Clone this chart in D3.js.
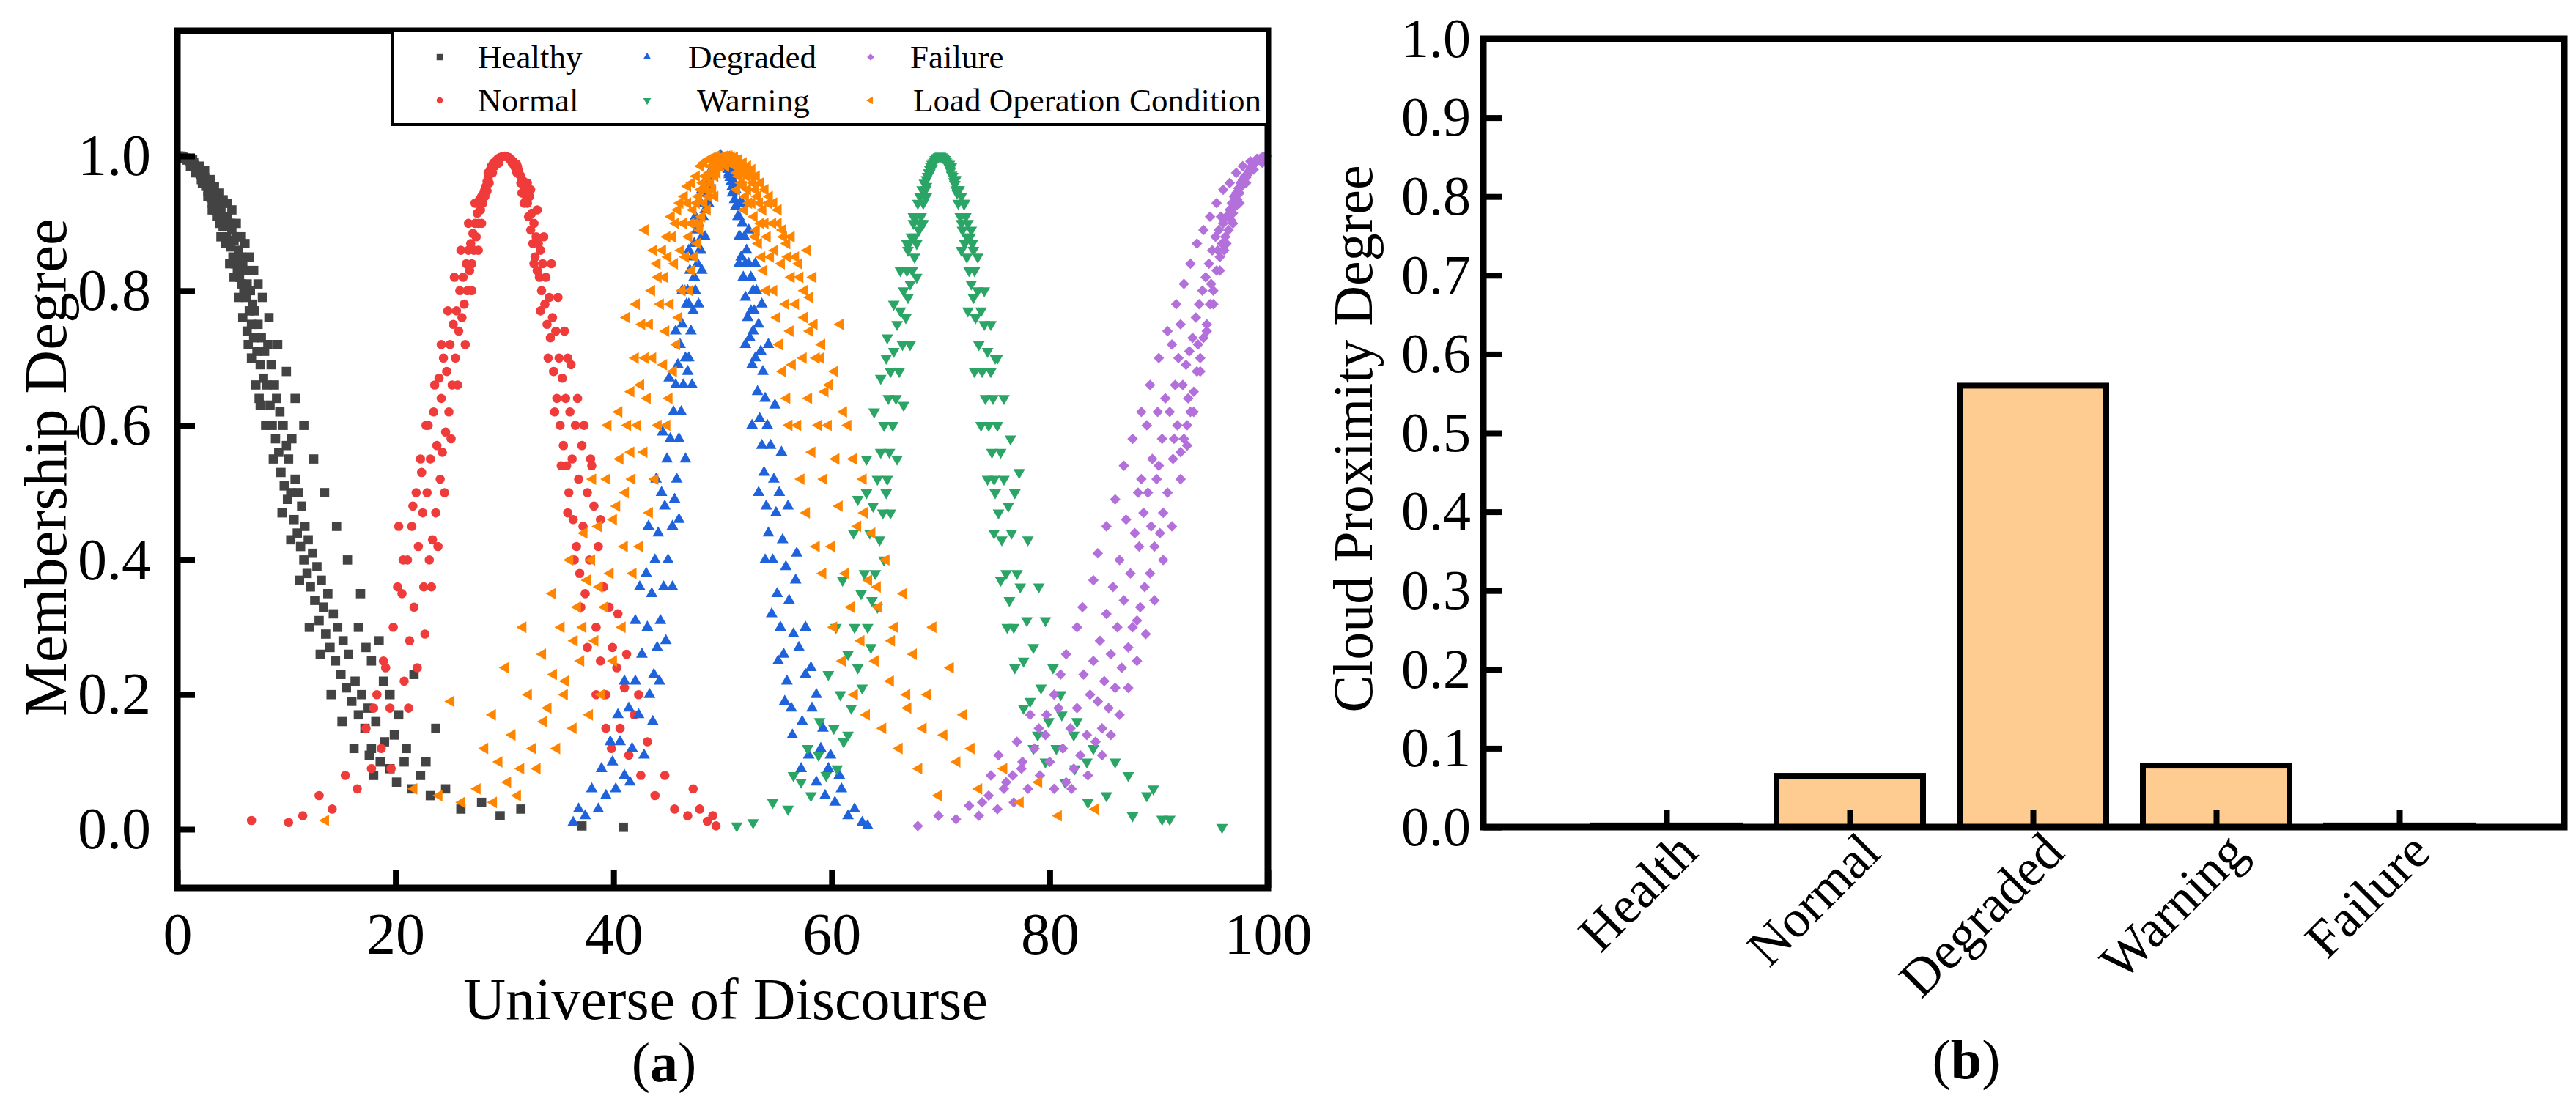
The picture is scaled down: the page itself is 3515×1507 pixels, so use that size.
<!DOCTYPE html>
<meta charset="utf-8">
<style>
    body { margin: 0; background: #fff; }
    text { font-family: "Liberation Serif", "Times New Roman", serif; fill: #000; }
</style>
<body>
<script src="https://d3js.org/d3.v7.min.js"></script>
<script>
// ---- panel (a): cloud drops, [universe of discourse, membership degree] ----
var healthyPts = [
[0.1,1],[0.3,1],[0.4,.999],[0.5,.999],[0.7,.997],[0.8,.996],[0.9,.994],[1.0,.995],[1.1,.993],[1.3,.99],[1.4,.988],[1.5,.99],[1.6,.986],[1.7,.984],[1.8,.978],[1.9,.98],[2.0,.975],[2.1,.972],[2.2,.965],[2.3,.97],[2.4,.962],[2.5,.968],[2.6,.955],[2.6,.962],[2.7,.96],[2.8,.948],[2.9,.955],[3.0,.94],[3.1,.95],[3.1,.938],[3.2,.93],[3.3,.945],[3.4,.935],[3.5,.92],[3.5,.93],[3.6,.94],[3.7,.915],[3.8,.93],[3.9,.9],[4.0,.92],
[4.1,.91],[4.2,.895],[4.3,.93],[4.4,.9],[4.5,.88],[4.6,.91],[4.7,.87],[4.8,.9],[4.9,.865],[5.0,.89],[5.1,.85],[5.2,.875],[5.3,.84],[5.4,.88],[5.5,.83],[5.6,.86],[5.7,.82],[5.8,.85],[5.9,.81],[6.0,.84],[6.1,.8],[6.2,.83],[6.3,.79],[6.4,.81],[6.5,.72],[6.6,.77],[6.7,.8],[6.8,.75],[6.9,.78],[7.0,.73],[7.1,.77],[7.3,.71],[7.4,.75],[7.5,.64],[7.6,.69],[7.7,.73],[7.9,.67],[8.0,.71],
[8.2,.66],[8.3,.72],[8.5,.63],[8.6,.69],[8.7,.6],[8.9,.66],[9.0,.58],[9.1,.64],[9.3,.56],[9.4,.62],[9.5,.53],[9.7,.6],[9.8,.51],[10.0,.57],[10.1,.49],[10.2,.55],[10.4,.5],[10.5,.58],[10.7,.46],[10.8,.52],[11.0,.44],[11.1,.5],[11.3,.42],[11.4,.48],[11.6,.4],[11.7,.45],[11.9,.38],[12.0,.43],
[12.2,.36],[12.4,.41],[12.6,.34],[12.8,.39],[13.0,.31],[13.2,.37],[13.4,.33],[13.6,.29],[13.8,.35],[14.0,.27],[14.3,.32],[14.5,.25],[14.7,.3],[15.0,.23],[15.2,.28],[15.5,.21],[15.7,.26],[16.0,.19],
[16.3,.22],[16.6,.3],[16.6,.17],[16.9,.2],[17.2,.15],[17.5,.18],[17.6,.11],[17.8,.25],[17.8,.12],[18.2,.16],[18.5,.28],[18.6,.1],[19.0,.13],[19.5,.2],[19.5,.09],[20.3,.17],[21.7,.23],[23.7,.15],
[20.1,.07],[20.8,.1],[21.5,.06],[22.3,.08],[23.2,.05],[24.6,.06],[26.0,.03],[27.9,.04],[29.6,.02],[31.5,.03],[37.1,.005],[40.9,.003],
[0.2,.998],[0.6,.996],[1.2,.985],[1.4,.995],[1.7,.975],[2.0,.985],[2.3,.96],[2.5,.978],[2.8,.94],[3.0,.965],[3.2,.92],[3.4,.955],[3.6,.91],[3.8,.945],[4.0,.88],[4.2,.935],[4.4,.87],[4.6,.93],[4.8,.84],[5.0,.92],[5.2,.82],[5.4,.9],[5.6,.79],[5.8,.88],[6.0,.76],[6.2,.87],[6.4,.74],[6.6,.85],[6.8,.7],[7.0,.83],
[7.2,.66],[7.4,.81],[7.6,.63],[7.8,.79],[8.1,.6],[8.4,.76],[8.8,.55],[9.2,.72],[9.6,.47],[10.0,.68],[10.4,.43],[10.8,.64],[11.2,.37],[11.6,.6],[12.1,.3],[12.5,.55],[13.1,.26],[13.5,.5],[14.1,.2],[14.6,.45],[15.1,.16],[15.6,.4],[16.2,.12],[16.8,.35],[17.3,.27],[18.0,.08],[18.9,.22],[19.9,.14],[21.0,.12],[22.8,.1]
];
var normalPts = [
[30.0,1],[29.8,.999],[30.2,.999],[29.6,.998],[30.4,.998],[29.4,.996],[30.6,.995],[29.2,.993],[30.8,.992],[29.0,.99],[31.0,.988],[28.8,.985],[31.2,.984],[28.7,.98],[31.3,.978],[28.6,.975],[31.4,.972],[28.5,.968],[31.5,.97],[28.4,.962],[31.6,.96],[28.3,.955],[31.7,.963],[28.2,.95],[31.8,.948],[28.1,.945],[31.9,.95],[28.0,.93],[32.0,.94],[29.1,.985],[30.9,.985],[29.5,.99],[30.5,.995],[28.9,.975],[31.1,.976],[28.4,.948],[31.6,.945],[29.3,.988],[30.7,.99],[28.6,.96],
[27.9,.94],[27.8,.92],[27.7,.935],[27.6,.9],[27.5,.915],[27.4,.88],[27.3,.9],[27.2,.86],[27.1,.885],[27.0,.84],[26.9,.87],[26.8,.83],[26.7,.86],[26.6,.8],[26.5,.84],[26.3,.78],[26.2,.82],[26.1,.76],
[32.1,.93],[32.2,.91],[32.3,.94],[32.4,.89],[32.5,.915],[32.6,.87],[32.7,.9],[32.8,.85],[32.9,.88],[33.0,.83],[33.1,.87],[33.2,.82],[33.3,.86],[33.4,.8],[33.5,.84],[33.7,.78],[33.8,.82],[33.9,.75],
[25.9,.8],[25.8,.74],[25.6,.77],[25.5,.7],[25.3,.75],[25.2,.66],[25.0,.72],[24.9,.62],[24.7,.68],[24.6,.59],[24.4,.7],[24.3,.56],[24.2,.64],[24.1,.52],[24.0,.67],
[34.1,.79],[34.2,.73],[34.4,.76],[34.5,.68],[34.7,.74],[34.8,.64],[35.0,.7],[35.1,.6],[35.3,.67],[35.4,.57],[35.6,.64],[35.7,.54],[35.8,.7],[35.9,.5],[36.0,.62],
[23.8,.57],[23.7,.47],[23.5,.62],[23.4,.43],[23.2,.55],[23.1,.4],[22.9,.5],[22.8,.6],[22.6,.36],[22.5,.47],[22.3,.55],[22.1,.42],
[36.2,.55],[36.3,.46],[36.5,.6],[36.6,.42],[36.8,.52],[36.9,.38],[37.1,.57],[37.2,.45],[37.4,.35],[37.6,.5],[37.8,.4],[37.9,.55],
[21.9,.5],[21.7,.33],[21.5,.45],[21.3,.28],[21.1,.4],[20.8,.22],[20.6,.35],[20.3,.45],
[38.2,.48],[38.4,.3],[38.6,.42],[38.8,.25],[39.1,.36],[39.3,.2],[39.6,.33],[39.9,.27],
[19.8,.3],[19.5,.18],[19.1,.24],[18.7,.12],[18.3,.2],[17.8,.09],[17.3,.15],[16.5,.06],
[40.3,.24],[40.6,.15],[41.0,.21],[41.4,.11],[41.9,.17],[42.5,.08],[43.1,.13],[43.8,.05],
[15.4,.08],[14.2,.03],[13.0,.05],[11.5,.02],[10.2,.01],[6.8,.013],[44.7,.08],[45.6,.03],[46.8,.02],[47.3,.06],[47.9,.03],[48.6,.012],[49.1,.02],[49.4,.005],
[28.9,.985],[31.1,.988],[28.5,.975],[31.5,.96],[28.2,.94],[31.8,.93],[27.9,.9],[32.1,.96],[27.6,.86],[32.4,.95],[27.3,.93],[32.7,.84],[27.0,.8],[33.0,.92],[26.7,.9],[33.3,.77],[26.4,.72],[33.6,.88],[26.0,.86],[34.0,.7],
[25.7,.66],[34.3,.84],[25.4,.82],[34.6,.62],[25.1,.58],[34.9,.79],[24.8,.77],[35.2,.54],[24.5,.5],[35.5,.74],[24.2,.72],[35.8,.47],[23.9,.42],[36.1,.69],[23.6,.66],[36.4,.4],[23.3,.36],[36.7,.64],[23.0,.6],[37.0,.33],
[22.7,.29],[37.3,.6],[22.4,.53],[37.6,.27],[22.0,.24],[38.0,.54],[21.6,.48],[38.4,.2],[21.2,.18],[38.8,.46],[20.7,.4],[39.3,.15],[20.2,.36],[39.8,.12],[19.6,.09],[40.4,.32],[18.9,.25],[41.2,.26],[18.0,.18],[42.3,.2]
];
var degradedPts = [
[48.4,.92],[48.4,.95],[48.5,.93],[48.6,.945],[48.6,.96],[48.7,.955],[48.8,.96],[48.8,.975],[48.9,.97],[49.0,.975],[49.1,.98],[49.2,.985],[49.3,.99],[49.4,.993],[49.5,.996],[49.6,.998],[49.7,.999],[49.8,1],[49.9,.999],[50.0,.998],[50.1,.996],[50.2,.992],[50.3,.99],[50.4,.985],[50.5,.98],[50.6,.972],[50.7,.968],[50.8,.962],[50.8,.978],[50.9,.955],[51.0,.948],[51.0,.962],[51.1,.935],[51.2,.925],[51.2,.95],
[48.2,.91],[48.1,.88],[48.0,.93],[47.9,.86],[47.8,.9],[47.7,.84],[47.6,.89],[47.5,.8],[47.4,.87],[47.3,.77],[47.2,.85],[47.1,.74],[47.0,.83],[46.9,.7],[46.8,.8],[46.9,.78],[47.4,.82],[48.0,.86],
[51.4,.91],[51.5,.88],[51.6,.93],[51.7,.85],[51.8,.9],[51.9,.82],[52.0,.88],[52.1,.79],[52.2,.86],[52.3,.76],[52.4,.84],[52.5,.73],[52.6,.82],[52.7,.69],[52.8,.8],[52.6,.77],[52.1,.84],[51.6,.88],
[46.7,.78],[46.6,.7],[46.5,.8],[46.4,.66],[46.3,.75],[46.2,.62],[46.1,.72],[46.0,.58],[45.9,.69],[45.8,.52],[45.7,.66],[45.6,.49],[45.5,.62],[45.4,.45],[45.2,.58],[45.0,.4],[44.9,.55],
[52.9,.77],[53.0,.7],[53.1,.8],[53.2,.65],[53.3,.75],[53.4,.61],[53.5,.71],[53.6,.57],[53.7,.68],[53.8,.53],[53.9,.64],[54.0,.48],[54.1,.6],[54.2,.44],[54.4,.57],[54.6,.4],[54.7,.52],
[44.7,.48],[44.6,.36],[44.4,.5],[44.3,.31],[44.1,.44],[44.0,.27],[43.8,.4],[43.7,.23],[43.5,.35],[43.3,.2],[43.1,.3],[43.0,.38],
[54.9,.47],[55.0,.35],[55.2,.5],[55.3,.3],[55.5,.43],[55.6,.26],[55.8,.39],[55.9,.22],[56.1,.34],[56.3,.18],[56.5,.29],[56.7,.37],
[42.6,.26],[42.3,.17],[42.0,.22],[41.7,.12],[41.4,.18],[41.0,.08],[40.6,.13],[40.2,.06],[39.9,.1],
[57.0,.27],[57.3,.16],[57.6,.23],[57.9,.11],[58.2,.18],[58.6,.07],[59.0,.12],[59.4,.05],[59.7,.09],
[39.3,.05],[38.6,.03],[38.0,.06],[37.4,.02],[36.8,.03],[36.3,.01],[60.3,.04],[60.9,.06],[61.5,.02],[62.1,.03],[62.8,.01],[63.3,.005],
[49.0,.97],[50.6,.975],[48.7,.93],[50.9,.945],[48.4,.88],[51.2,.97],[48.1,.95],[51.5,.84],[47.8,.78],[51.8,.93],[47.5,.91],[52.1,.72],[47.2,.66],[52.4,.89],[46.9,.86],[52.7,.6],[46.6,.55],[53.0,.84],[46.3,.8],[53.3,.5],
[46.0,.46],[53.6,.78],[45.7,.74],[53.9,.4],[45.4,.36],[54.2,.72],[45.1,.67],[54.5,.32],[44.8,.28],[54.8,.63],[44.5,.59],[55.1,.25],[44.2,.22],[55.4,.56],[43.9,.52],[55.7,.19],[43.6,.16],[56.0,.48],[43.2,.45],[56.4,.14],
[42.8,.11],[56.8,.41],[42.4,.36],[57.2,.09],[42.0,.31],[57.6,.3],[41.5,.07],[58.1,.24],[41.0,.22],[58.6,.2],[40.4,.17],[59.2,.15],[39.7,.13],[59.9,.11],[38.9,.09],[60.7,.08],[48.1,.83],[51.5,.91],[46.8,.68],[52.8,.74]
];
var warningPts = [
[68.5,.94],[68.5,.96],[68.6,.95],[68.7,.965],[68.7,.955],[68.8,.97],[68.9,.975],[69.0,.98],[69.1,.984],[69.2,.988],[69.2,.982],[69.3,.99],[69.4,.993],[69.5,.995],[69.6,.997],[69.7,.998],[69.8,.999],[69.9,1],[70.0,1],[70.1,.999],[70.2,.998],[70.3,.997],[70.4,.995],[70.5,.992],[70.6,.99],[70.7,.986],[70.8,.982],[70.8,.988],[70.9,.978],[71.0,.972],[71.1,.97],[71.2,.962],[71.3,.958],[71.4,.95],[71.4,.965],[71.5,.945],
[68.4,.93],[68.3,.95],[68.2,.91],[68.1,.94],[68.1,.9],[68.0,.89],[67.9,.93],[67.8,.87],[67.7,.91],[67.6,.85],[67.6,.88],[67.5,.9],[67.4,.83],[67.3,.88],[67.2,.81],[67.1,.87],[67.0,.79],[67.0,.86],
[71.6,.93],[71.7,.95],[71.8,.91],[71.9,.94],[71.9,.9],[72.0,.89],[72.1,.93],[72.2,.87],[72.3,.91],[72.4,.85],[72.4,.88],[72.5,.9],[72.6,.83],[72.7,.88],[72.8,.81],[72.9,.87],[73.0,.79],[73.0,.86],
[66.9,.83],[66.8,.76],[66.6,.8],[66.5,.72],[66.3,.77],[66.2,.68],[66.0,.75],[65.9,.64],[65.7,.71],[65.6,.6],[65.4,.68],[65.3,.56],[65.2,.64],[65.1,.52],[65.0,.7],[65.0,.5],
[73.1,.83],[73.2,.76],[73.4,.8],[73.5,.72],[73.7,.77],[73.8,.68],[74.0,.75],[74.1,.64],[74.3,.71],[74.4,.6],[74.6,.68],[74.7,.56],[74.8,.64],[74.9,.52],[75.0,.7],[75.0,.5],
[64.8,.6],[64.7,.47],[64.5,.56],[64.4,.43],[64.2,.52],[64.0,.38],[63.8,.48],[63.7,.34],[63.5,.44],[63.3,.3],[63.2,.5],[63.0,.38],
[75.2,.6],[75.3,.47],[75.5,.56],[75.6,.43],[75.8,.52],[76.0,.38],[76.2,.48],[76.3,.34],[76.5,.44],[76.7,.3],[76.8,.5],[77.0,.38],
[62.7,.35],[62.4,.24],[62.1,.3],[61.8,.18],[61.5,.26],[61.1,.13],[60.8,.2],[60.5,.09],[60.2,.15],
[77.3,.36],[77.6,.25],[77.9,.31],[78.2,.19],[78.5,.27],[78.9,.14],[79.2,.21],[79.6,.1],[79.9,.16],
[59.5,.08],[58.8,.11],[58.1,.05],[57.2,.07],[56.0,.03],[54.6,.04],[52.8,.01],[51.3,.005],
[80.6,.12],[81.4,.07],[82.3,.09],[83.5,.04],[85.2,.05],[87.6,.02],[90.3,.015],[95.8,.003],
[81.0,.2],[82.5,.16],[84.0,.12],[86.0,.1],[87.2,.08],[88.9,.05],[89.5,.06],[91.0,.015],
[69.0,.975],[71.0,.985],[68.7,.94],[71.3,.965],[68.4,.9],[71.6,.95],[68.1,.94],[71.9,.86],[67.8,.82],[72.2,.93],[67.5,.91],[72.5,.77],[67.2,.72],[72.8,.89],[66.9,.87],[73.1,.68],[66.6,.63],[73.4,.85],[66.3,.83],[73.7,.6],
[66.0,.55],[74.0,.8],[65.7,.78],[74.3,.52],[65.4,.47],[74.6,.75],[65.1,.73],[74.9,.44],[64.8,.4],[75.2,.7],[64.5,.67],[75.5,.37],[64.2,.33],[75.8,.64],[63.9,.62],[76.1,.3],[63.6,.27],[76.4,.58],[63.2,.55],[76.8,.24],
[62.8,.21],[77.2,.53],[62.4,.49],[77.6,.18],[62.0,.44],[78.0,.43],[61.5,.14],[78.5,.12],[61.0,.37],[79.0,.36],[60.4,.3],[79.6,.31],[59.7,.23],[80.3,.24],[58.9,.16],[81.1,.17],[57.8,.12],[82.2,.14],[83.4,.1],[56.5,.08]
];
var failurePts = [
[99.9,1],[99.8,.999],[99.7,.999],[99.6,.998],[99.5,.998],[99.4,.997],[99.3,.996],[99.2,.995],[99.1,.994],[99.0,.993],[98.9,.991],[98.8,.99],[98.7,.988],[98.6,.986],[98.5,.984],[98.4,.98],[98.3,.978],[98.2,.974],[98.1,.972],[98.0,.968],[97.9,.97],[97.8,.962],[97.7,.965],[97.6,.955],[97.5,.96],[97.4,.945],[97.3,.952],[97.2,.935],[97.1,.945],[97.0,.925],[96.9,.94],[96.8,.915],[96.7,.93],[96.6,.905],[96.5,.92],[96.4,.89],[96.2,.91],[96.1,.88],
[95.9,.9],[95.8,.87],[95.7,.91],[95.6,.85],[95.5,.89],[95.4,.86],[95.3,.83],[95.2,.88],[95.0,.8],[94.9,.86],[94.8,.81],[94.7,.78],[94.6,.84],[94.4,.75],[94.3,.82],[94.1,.73],[94.0,.8],[93.8,.7],[93.7,.78],[93.6,.72],[93.5,.68],[93.4,.76],[93.2,.65],[93.1,.73],[92.9,.62],[92.8,.71],[92.7,.64],[92.6,.6],[92.5,.69],[92.3,.58],[92.2,.66],[92.0,.56],[92.0,.75],[96.0,.86],
[91.8,.7],[91.7,.6],[91.5,.66],[91.4,.58],[91.3,.55],[91.2,.72],[91.0,.62],[90.8,.5],[90.6,.64],[90.4,.47],[90.3,.58],[90.1,.44],[90.0,.54],[89.9,.62],[89.8,.52],[89.6,.42],[89.4,.55],[89.3,.45],[89.2,.38],[89.0,.5],[88.9,.6],[88.7,.36],[88.6,.47],[88.4,.52],[88.3,.33],[88.2,.42],[88.1,.5],[88.0,.31],
[87.8,.44],[87.6,.3],[87.4,.38],[87.2,.27],[87.0,.46],[86.8,.34],[86.6,.24],[86.4,.4],[86.2,.3],[86.0,.21],[85.8,.36],[85.6,.26],[85.4,.18],[85.2,.32],[85.0,.22],[84.8,.15],[84.6,.28],[84.4,.19],[84.2,.13],[84.0,.25],
[83.7,.2],[83.4,.14],[83.1,.23],[82.8,.11],[82.5,.18],[82.2,.09],[81.9,.15],[81.5,.07],[81.2,.12],[80.8,.18],[80.4,.06],[80.0,.1],[79.6,.14],[79.1,.08],
[78.6,.12],[78.0,.06],[77.4,.09],[77.0,.13],[76.7,.04],[76.0,.07],[75.3,.11],[75.2,.03],[74.4,.05],[73.5,.02],[72.6,.035],[71.4,.015],[69.8,.02],[67.9,.005],
[99.5,.99],[99.0,.996],[98.7,.98],[98.4,.992],[98.0,.96],[97.7,.985],[97.4,.93],[97.1,.975],[96.8,.9],[96.5,.96],[96.2,.87],[95.9,.95],[95.6,.83],[95.3,.93],[95.0,.78],[94.7,.91],[94.4,.74],[94.1,.89],[93.8,.68],[93.5,.87],
[93.2,.62],[92.9,.84],[92.6,.57],[92.3,.81],[92.0,.52],[91.6,.78],[91.2,.45],[90.8,.74],[90.4,.4],[90.0,.7],[89.6,.34],[89.2,.66],[88.8,.29],[88.4,.62],[88.0,.25],[87.6,.58],[87.2,.21],[86.8,.54],[86.4,.17],[86.0,.49],
[85.6,.14],[85.2,.45],[84.8,.11],[84.4,.41],[84.0,.37],[83.5,.08],[83.0,.33],[82.5,.3],[82.0,.06],[81.5,.26],[81.0,.23],[80.4,.2],[79.7,.17],[79.0,.15],[78.2,.17],[77.5,.1],[76.6,.08],[75.8,.06],[74.6,.08],[73.8,.04]
];
var loadPts = [
[48.5,.95],[48.6,.97],[48.7,.94],[48.8,.975],[48.9,.96],[49.0,.985],[49.1,.95],[49.2,.98],[49.3,.97],[49.4,.99],[49.5,.975],[49.6,.995],[49.7,.985],[49.8,.998],[49.9,.99],[50.0,.999],[50.1,.995],[50.2,1],[50.3,.997],[50.4,1],[50.5,.998],[50.6,1],[50.7,.996],[50.8,.999],[50.9,.99],[51.0,.997],[51.1,.985],[51.2,.993],[51.3,.975],[51.4,.99],[51.5,.97],[51.6,.985],[51.7,.96],[51.8,.98],[51.9,.955],[52.0,.975],[52.1,.94],[52.2,.97],[52.3,.95],[52.4,.93],
[48.4,.97],[48.3,.93],[48.2,.96],[48.1,.91],[48.0,.95],[47.9,.89],[47.8,.94],[47.7,.87],[47.6,.93],[47.5,.9],[47.4,.85],[47.3,.92],[47.2,.83],[47.1,.9],[47.0,.8],[46.9,.88],[46.8,.93],[46.6,.85],
[52.6,.97],[52.7,.93],[52.8,.96],[52.9,.91],[53.0,.95],[53.1,.89],[53.2,.94],[53.3,.87],[53.4,.93],[53.5,.9],[53.6,.85],[53.7,.92],[53.8,.83],[53.9,.9],[54.0,.8],[54.1,.88],[54.2,.93],[54.4,.85],
[46.4,.9],[46.3,.8],[46.2,.86],[46.0,.76],[45.9,.92],[45.8,.72],[45.6,.84],[45.5,.68],[45.4,.88],[45.2,.78],[45.1,.64],[45.0,.85],[44.9,.6],[44.8,.74],[44.7,.82],[44.6,.69],
[54.6,.9],[54.7,.8],[54.8,.86],[55.0,.76],[55.1,.92],[55.2,.72],[55.4,.84],[55.5,.68],[55.6,.88],[55.8,.78],[55.9,.64],[56.0,.85],[56.1,.6],[56.2,.74],[56.3,.82],[56.4,.69],
[44.3,.78],[44.1,.6],[44.0,.84],[43.8,.52],[43.6,.7],[43.5,.8],[43.3,.47],[43.1,.64],[42.9,.89],[42.8,.56],[42.6,.75],[42.4,.42],[42.2,.6],[42.0,.7],[41.8,.38],[41.7,.52],[41.6,.65],
[56.7,.78],[56.9,.6],[57.0,.84],[57.2,.52],[57.4,.7],[57.5,.8],[57.7,.47],[57.9,.64],[58.0,.74],[58.2,.56],[58.4,.75],[58.6,.42],[58.8,.6],[59.0,.7],[59.2,.38],[59.3,.52],[59.4,.65],
[57.8,.86],[58.3,.82],[60.8,.75],[41.2,.76],
[41.3,.6],[41.0,.42],[40.8,.3],[40.6,.55],[40.3,.48],[40.0,.25],[39.7,.38],[39.5,.6],[39.2,.33],[38.9,.2],[38.6,.45],[38.3,.28],[38.1,.52],[37.8,.17],[37.6,.37],
[59.7,.6],[60.0,.42],[60.2,.3],[60.4,.55],[60.7,.48],[61.0,.25],[61.3,.38],[61.5,.6],[61.8,.33],[62.1,.2],[62.4,.45],[62.7,.28],[62.9,.52],[63.2,.17],[63.4,.37],
[37.3,.44],[37.0,.25],[36.7,.33],[36.3,.15],[36.0,.4],[35.6,.22],[35.2,.3],[34.8,.12],[34.4,.35],[34.0,.18],[33.5,.26],[33.0,.09],
[63.7,.44],[64.0,.25],[64.3,.33],[64.7,.15],[65.0,.4],[65.4,.22],[65.8,.3],[66.2,.12],[66.6,.35],[67.0,.18],[67.5,.26],[68.0,.09],
[32.2,.2],[31.7,.3],[31.2,.05],[30.7,.14],[30.1,.24],[29.5,.1],[28.9,.17],[28.2,.12],[27.5,.06],
[68.8,.2],[69.3,.3],[69.8,.05],[70.3,.14],[70.9,.24],[71.5,.1],[72.1,.17],[72.8,.12],[73.5,.06],
[26.1,.04],[25.1,.19],[24.0,.05],[21.7,.06],[13.6,.013],[75.8,.09],[77.3,.04],[79.0,.07],[80.8,.02],[84.2,.03],
[47.6,.97],[48.0,.985],[48.3,.99],[48.7,.995],[49.1,.998],[49.5,1],[49.9,.995],[50.3,.985],[50.7,.99],[51.1,.998],[51.5,.995],[51.9,.99],[52.3,.985],[52.7,.98],[53.1,.97],[53.5,.96],[53.9,.95],[54.3,.94],[54.7,.93],[55.1,.9],
[55.5,.89],[55.9,.87],[56.3,.88],[56.7,.85],[57.1,.82],[57.5,.76],[58.0,.79],[58.6,.7],[59.1,.72],[59.8,.66],[60.3,.68],[61.1,.62],[62.0,.55],[63.0,.47],[64.2,.36],[65.5,.28],[66.9,.2],[68.4,.15],
[47.2,.96],[46.8,.955],[46.5,.94],[46.1,.93],[45.7,.9],[45.3,.91],[44.9,.88],[44.5,.86],[44.1,.82],[43.7,.86],[43.3,.75],[42.9,.7],[42.5,.66],[42.1,.78],[41.6,.56],[41.1,.5],[40.5,.62],[40.0,.46],[39.4,.52],[38.7,.36],
[38.0,.4],[37.2,.3],[36.4,.28],[35.5,.2],[34.5,.23],[33.6,.16],[32.6,.12],[31.5,.09],[30.3,.07],[29.0,.04],[47.9,.9],[48.6,.92],[52.0,.92],[53.0,.88],[49.3,.94],[51.3,.95]
];
var seriesNames = ['Healthy', 'Normal', 'Degraded', 'Warning', 'Failure', 'Load Operation Condition'];
var xTicksA = [0, 20, 40, 60, 80, 100];
var yTicksA = [0, 0.2, 0.4, 0.6, 0.8, 1.0];

// ---- panel (b): cloud proximity degree ----
var barCategories = ['Health', 'Normal', 'Degraded', 'Warning', 'Failure'];
var barValues = [0.002, 0.065, 0.56, 0.078, 0.002];
var yTicksB = [0, 0.1, 0.2, 0.3, 0.4, 0.5, 0.6, 0.7, 0.8, 0.9, 1.0];

var svg = d3.select('body').append('svg')
    .attr('width', 3515)
    .attr('height', 1507);

// marker styles, same order as seriesNames
var colors = ['#434343', '#f03b3b', '#1e63dc', '#2aa566', '#b370db', '#ff8500'];
var shapes = [d3.symbolSquare, d3.symbolCircle, d3.symbolTriangle, d3.symbolTriangle, d3.symbolSquare, d3.symbolTriangle];
var turns = [0, 0, 0, 180, 45, -90];
var sizes = [160, 125, 110, 110, 105, 110];
var seriesData = [healthyPts, normalPts, degradedPts, warningPts, failurePts, loadPts];

// ===== panel (a) =====
var xA = d3.scaleLinear().domain([0, 100]).range([242, 1730]);
var yA = d3.scaleLinear().domain([0, 1]).range([1132, 213]);
var topA = 42, bottomA = 1212;

var pA = svg.append('g');
seriesData.forEach(function(pts, s) {
    var path = d3.symbol().type(shapes[s]).size(sizes[s])();
    pA.append('g').selectAll('path')
        .data(pts).enter()
        .append('path')
        .attr('d', path)
        .attr('fill', colors[s])
        .attr('transform', function(d) {
            return 'translate(' + xA(d[0]) + ',' + yA(d[1]) + ') rotate(' + turns[s] + ')';
        });
});

var axXA = pA.append('g')
    .attr('transform', 'translate(0,' + bottomA + ')')
    .call(d3.axisBottom(xA).tickValues(xTicksA).tickSize(-24).tickPadding(33).tickFormat(d3.format('d')));
var axYA = pA.append('g')
    .attr('transform', 'translate(' + xA(0) + ',0)')
    .call(d3.axisLeft(yA).tickValues(yTicksA).tickSize(-24).tickPadding(36).tickFormat(d3.format('.1f')));
[axXA, axYA].forEach(function(g) {
    g.attr('font-size', 80).attr('font-family', null);
    g.select('.domain').remove();
    g.selectAll('.tick line').attr('stroke', '#000').attr('stroke-width', 8);
});

pA.append('rect')
    .attr('x', xA(0)).attr('y', topA)
    .attr('width', xA(100) - xA(0)).attr('height', bottomA - topA)
    .attr('fill', 'none').attr('stroke', '#000').attr('stroke-width', 9);

// legend
var legend = pA.append('g');
legend.append('rect')
    .attr('x', 536).attr('y', topA)
    .attr('width', xA(100) - 536).attr('height', 170 - topA)
    .attr('fill', '#fff').attr('stroke', '#000').attr('stroke-width', 4);
var legSymX = [600, 600, 883, 883, 1188, 1188];
var legTextX = [652, 652, 939, 951, 1242, 1246];
var legY = [78, 137, 78, 137, 78, 137];
seriesNames.forEach(function(name, s) {
    legend.append('path')
        .attr('d', d3.symbol().type(shapes[s]).size(sizes[s] * 0.45)())
        .attr('fill', colors[s])
        .attr('transform', 'translate(' + legSymX[s] + ',' + legY[s] + ') rotate(' + turns[s] + ')');
    legend.append('text')
        .attr('x', legTextX[s]).attr('y', legY[s] + 15)
        .attr('font-size', 45)
        .text(name);
});

pA.append('text')
    .attr('transform', 'translate(90,638) rotate(-90)')
    .attr('text-anchor', 'middle')
    .attr('font-size', 83)
    .text('Membership Degree');
pA.append('text')
    .attr('x', 990).attr('y', 1391)
    .attr('text-anchor', 'middle')
    .attr('font-size', 80)
    .text('Universe of Discourse');

// ===== panel (b) =====
var xB = d3.scaleLinear().domain([0, 5.9]).range([2024, 3499]);
var yB = d3.scaleLinear().domain([0, 1]).range([1129, 53]);
var pB = svg.append('g');

pB.selectAll('rect.bar')
    .data(barValues).enter()
    .append('rect')
    .attr('class', 'bar')
    .attr('x', function(d, i) { return xB(i + 1) - 100; })
    .attr('y', function(d) { return yB(d); })
    .attr('width', 200)
    .attr('height', function(d) { return yB(0) - yB(d); })
    .attr('fill', '#fecc91')
    .attr('stroke', '#000')
    .attr('stroke-width', 8);

var axXB = pB.append('g')
    .attr('transform', 'translate(0,' + yB(0) + ')')
    .call(d3.axisBottom(xB).tickValues([1, 2, 3, 4, 5]).tickSize(-24)
        .tickFormat(function(d) { return barCategories[d - 1]; }));
axXB.selectAll('.tick text')
    .attr('y', 0).attr('dy', 0)
    .attr('text-anchor', 'end')
    .attr('transform', 'translate(45,38) rotate(-45)');
axXB.attr('font-size', 72);

var axYB = pB.append('g')
    .attr('transform', 'translate(' + xB(0) + ',0)')
    .call(d3.axisLeft(yB).tickValues(yTicksB).tickSize(-26).tickPadding(17).tickFormat(d3.format('.1f')));
axYB.attr('font-size', 76);
[axXB, axYB].forEach(function(g) {
    g.attr('font-family', null);
    g.select('.domain').remove();
    g.selectAll('.tick line').attr('stroke', '#000').attr('stroke-width', 8);
});

pB.append('rect')
    .attr('x', xB(0)).attr('y', yB(1))
    .attr('width', xB(5.9) - xB(0)).attr('height', yB(0) - yB(1))
    .attr('fill', 'none').attr('stroke', '#000').attr('stroke-width', 9);

pB.append('text')
    .attr('transform', 'translate(1872,599) rotate(-90)')
    .attr('text-anchor', 'middle')
    .attr('font-size', 76)
    .text('Cloud Proximity Degree');

// captions
[['a', 906, 1476], ['b', 2683, 1472]].forEach(function(c) {
    var t = svg.append('text')
        .attr('x', c[1]).attr('y', c[2])
        .attr('text-anchor', 'middle')
        .attr('font-size', 76);
    t.append('tspan').text('(');
    t.append('tspan').attr('font-weight', 'bold').text(c[0]);
    t.append('tspan').text(')');
});
</script>
</body>
